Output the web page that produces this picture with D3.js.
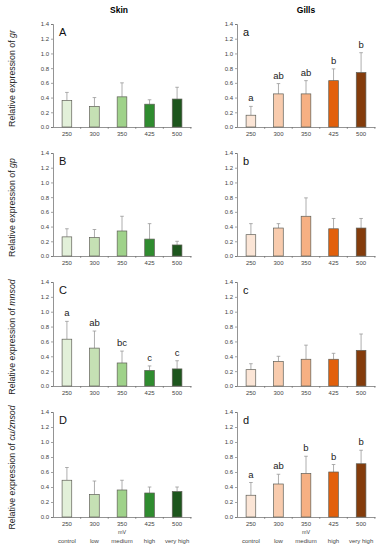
<!DOCTYPE html>
<html>
<head>
<meta charset="utf-8">
<script src="https://cdn.jsdelivr.net/npm/d3@7"></script>
<style>
  body { margin: 0; background: #fff; }
  text { font-family: "Liberation Sans", Arial, sans-serif; }
</style>
</head>
<body>
<div class="chart"></div>
<script>
// chart data
const doses = ["250", "300", "350", "425", "500"];
const levels = ["control", "low", "medium", "high", "very high"];
const yTicks = [0, 0.2, 0.4, 0.6, 0.8, 1.0, 1.2, 1.4];
const genes = ["gr", "gp", "mnsod", "cu/znsod"];
const skinLetters = ["A", "B", "C", "D"];
const gillLetters = ["a", "b", "c", "d"];

const skinMean = [
  [0.36, 0.28, 0.41, 0.31, 0.38],
  [0.26, 0.25, 0.34, 0.23, 0.15],
  [0.63, 0.51, 0.31, 0.21, 0.23],
  [0.49, 0.30, 0.36, 0.32, 0.34]
];
const skinErr = [
  [0.11, 0.12, 0.19, 0.06, 0.16],
  [0.11, 0.11, 0.20, 0.21, 0.05],
  [0.24, 0.23, 0.16, 0.06, 0.11],
  [0.17, 0.18, 0.13, 0.08, 0.06]
];
const skinSig = [null, null, ["a", "ab", "bc", "c", "c"], null];

const gillMean = [
  [0.16, 0.45, 0.45, 0.63, 0.74],
  [0.29, 0.38, 0.54, 0.37, 0.38],
  [0.22, 0.33, 0.36, 0.36, 0.48],
  [0.29, 0.44, 0.58, 0.60, 0.71]
];
const gillErr = [
  [0.12, 0.14, 0.18, 0.16, 0.27],
  [0.15, 0.06, 0.25, 0.14, 0.13],
  [0.08, 0.07, 0.19, 0.08, 0.22],
  [0.17, 0.13, 0.23, 0.10, 0.18]
];
const gillSig = [["a", "ab", "ab", "b", "b"], null, null, ["a", "ab", "b", "b", "b"]];

const greens = ["#e2f0d9", "#c5e0b4", "#9fd28a", "#2f8c2f", "#1d561d"];
const oranges = ["#fbe5d6", "#f8cbad", "#f6b083", "#e2600c", "#843c0c"];

const W = 383, H = 550;
const svg = d3.select(".chart").append("svg")
  .attr("width", W).attr("height", H);

// panel geometry
const cols = [{ x0: 53, x1: 191 }, { x0: 237, x1: 375 }];
const rows = [{ top: 24, bot: 127 }, { top: 153, bot: 256 }, { top: 282, bot: 386 }, { top: 412, bot: 517 }];

svg.append("text").attr("x", 119).attr("y", 13).attr("text-anchor", "middle")
  .style("font-size", "8.5px").style("font-weight", "bold").text("Skin");
svg.append("text").attr("x", 306).attr("y", 13).attr("text-anchor", "middle")
  .style("font-size", "8.5px").style("font-weight", "bold").text("Gills");

function panel(ci, ri, mean, err, sig, letter, colors) {
  const c = cols[ci], r = rows[ri];
  const g = svg.append("g");

  const x = d3.scaleBand().domain(doses).range([c.x0, c.x1]).paddingInner(0.65).paddingOuter(0.33);
  const y = d3.scaleLinear().domain([0, 1.4]).range([r.bot, r.top]);

  const yAxis = g.append("g")
    .attr("transform", `translate(${c.x0},0)`)
    .call(d3.axisLeft(y).tickValues(yTicks).tickSize(2).tickPadding(2).tickFormat(d3.format(".1f")));
  yAxis.select(".domain").attr("stroke", "#666").attr("stroke-width", 0.7);
  yAxis.selectAll(".tick line").attr("stroke", "#666").attr("stroke-width", 0.6);
  yAxis.selectAll("text").style("font-size", "6px").attr("fill", "#444");

  const xAxis = g.append("g")
    .attr("transform", `translate(0,${r.bot})`)
    .call(d3.axisBottom(x).tickSize(0).tickPadding(5));
  xAxis.select(".domain").attr("stroke", "#666").attr("stroke-width", 0.7);
  xAxis.selectAll("text").style("font-size", "6px").attr("fill", "#444");

  // category boundary ticks
  const step = x.step();
  const bounds = doses.map((d) => x(d) + x.bandwidth() / 2 + step / 2);
  g.selectAll(".btick").data(bounds).enter().append("line")
    .attr("x1", (d) => d).attr("x2", (d) => d)
    .attr("y1", r.bot).attr("y2", r.bot + 2)
    .attr("stroke", "#666").attr("stroke-width", 0.6);

  const idx = d3.range(doses.length);

  // error bars (upper only)
  g.selectAll(".err").data(idx).enter().append("line")
    .attr("x1", (i) => x(doses[i]) + x.bandwidth() / 2)
    .attr("x2", (i) => x(doses[i]) + x.bandwidth() / 2)
    .attr("y1", (i) => y(mean[i]))
    .attr("y2", (i) => y(mean[i] + err[i]))
    .attr("stroke", "#999").attr("stroke-width", 0.8);
  g.selectAll(".cap").data(idx).enter().append("line")
    .attr("x1", (i) => x(doses[i]) + x.bandwidth() / 2 - 1.8)
    .attr("x2", (i) => x(doses[i]) + x.bandwidth() / 2 + 1.8)
    .attr("y1", (i) => y(mean[i] + err[i]))
    .attr("y2", (i) => y(mean[i] + err[i]))
    .attr("stroke", "#999").attr("stroke-width", 0.8);

  g.selectAll(".bar").data(idx).enter().append("rect")
    .attr("x", (i) => x(doses[i]))
    .attr("y", (i) => y(mean[i]))
    .attr("width", x.bandwidth())
    .attr("height", (i) => r.bot - y(mean[i]))
    .attr("fill", (i) => colors[i])
    .attr("stroke", "#5f5f57").attr("stroke-width", 0.7);

  if (sig) {
    g.selectAll(".sig").data(idx).enter().append("text")
      .attr("x", (i) => x(doses[i]) + x.bandwidth() / 2)
      .attr("y", (i) => y(mean[i] + err[i]) - 5)
      .attr("text-anchor", "middle")
      .style("font-size", "9.5px").attr("fill", "#222")
      .text((i) => sig[i]);
  }

  g.append("text")
    .attr("x", c.x0 + 6).attr("y", r.top + 12)
    .style("font-size", "11px").attr("fill", "#111")
    .text(letter);

  if (ri === 3) {
    g.selectAll(".lvl").data(levels).enter().append("text")
      .attr("x", (d, i) => x(doses[i]) + x.bandwidth() / 2)
      .attr("y", r.bot + 26)
      .attr("text-anchor", "middle")
      .style("font-size", "6px").attr("fill", "#444")
      .text((d) => d);
    g.append("text")
      .attr("x", x(doses[2]) + x.bandwidth() / 2)
      .attr("y", r.bot + 17)
      .attr("text-anchor", "middle")
      .style("font-size", "5.4px").attr("fill", "#444")
      .text("mV");
  }
}

genes.forEach((gene, ri) => {
  panel(0, ri, skinMean[ri], skinErr[ri], skinSig[ri], skinLetters[ri], greens);
  panel(1, ri, gillMean[ri], gillErr[ri], gillSig[ri], gillLetters[ri], oranges);

  const r = rows[ri];
  const t = svg.append("text")
    .attr("transform", `translate(15,${(r.top + r.bot) / 2 + 3}) rotate(-90)`)
    .attr("text-anchor", "middle")
    .style("font-size", "8.8px").attr("fill", "#222");
  t.append("tspan").text("Relative expression of ");
  t.append("tspan").style("font-style", "italic").text(gene);
});
</script>
</body>
</html>
